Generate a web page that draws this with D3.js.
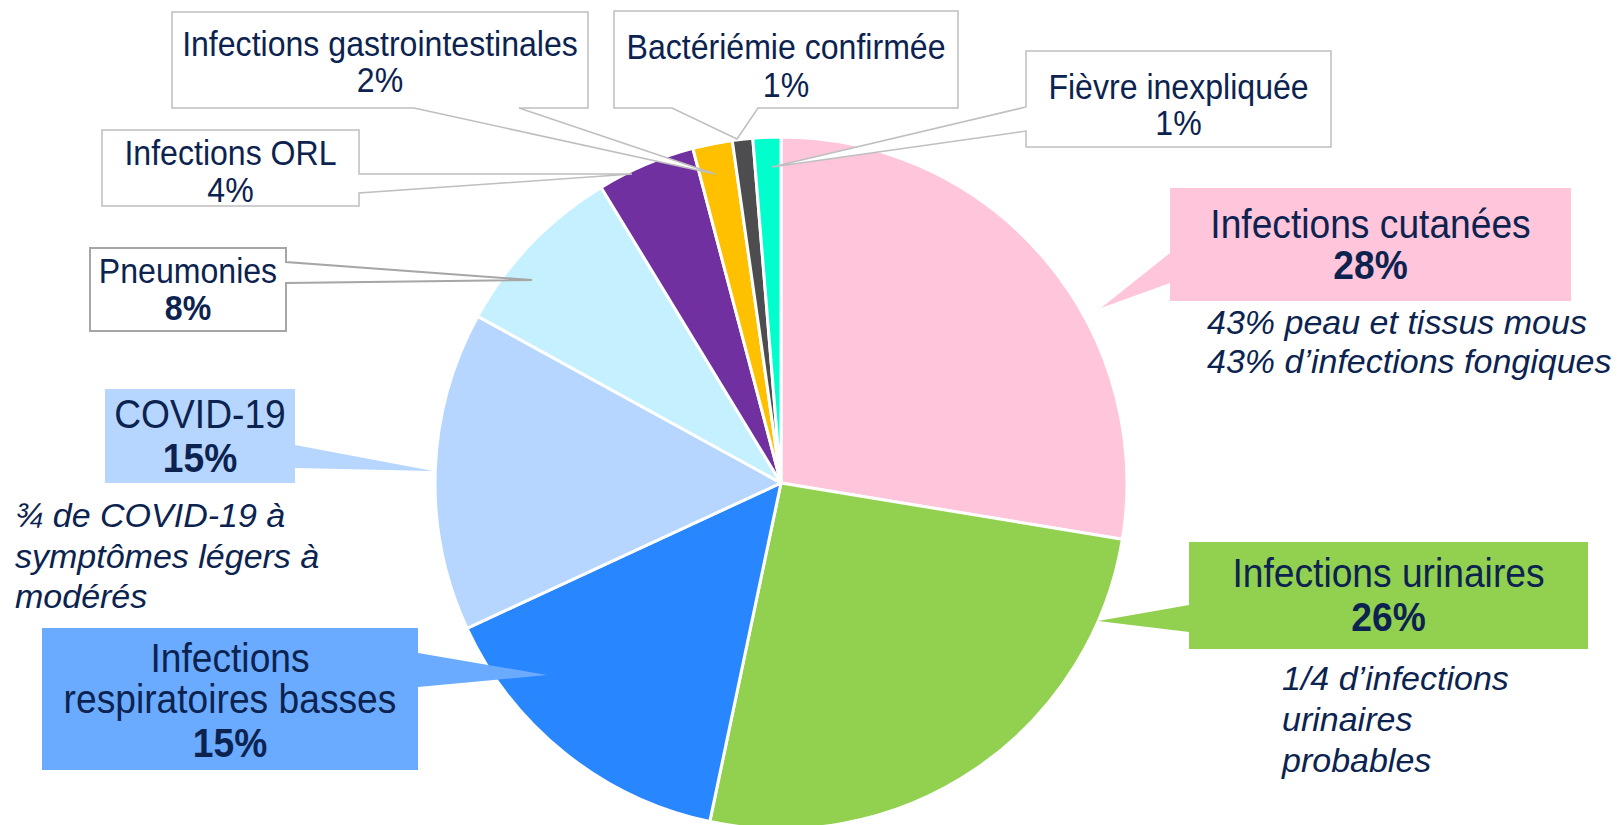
<!DOCTYPE html>
<html lang="fr">
<head>
<meta charset="utf-8">
<title>Répartition des infections</title>
<script src="https://cdn.jsdelivr.net/npm/d3@7"></script>
<style>
    html, body {
        margin: 0;
        padding: 0;
        background: #ffffff;
    }
    #chart {
        width: 1622px;
        height: 825px;
        overflow: hidden;
    }
    text {
        font-family: "Liberation Sans", Arial, sans-serif;
        fill: #0c2350;
    }
</style>
</head>
<body>
<div id="chart"></div>
<script>
// Slices, clockwise from 12 o'clock
var categories = [
    "Infections cutanées",
    "Infections urinaires",
    "Infections respiratoires basses",
    "COVID-19",
    "Pneumonies",
    "Infections ORL",
    "Infections gastrointestinales",
    "Bactériémie confirmée",
    "Fièvre inexpliquée"
];

// Share of each slice (%)
var shares = [27.6, 25.7, 14.8, 14.9, 8.3, 4.6, 1.85, 0.95, 1.3];

// Percent labels as printed
var pctLabels = ["28%", "26%", "15%", "15%", "8%", "4%", "2%", "1%", "1%"];

// Extra italic notes under some labels
var notes = [
    ["43% peau et tissus mous", "43% d’infections fongiques"],
    ["1/4 d’infections", "urinaires", "probables"],
    null,
    ["¾ de COVID-19 à", "symptômes légers à", "modérés"],
    null, null, null, null, null
];

var sliceColors = [
    "#ffc5db", "#92d050", "#2886ff", "#b6d6ff", "#c5f0ff",
    "#7030a0", "#ffc000", "#4d4d4f", "#00ffcc"
];

// Callout layout (annotation boxes), same order as categories
var callouts = [
    { box: [1170, 188, 401, 113], fill: "#ffc5db", side: "left", base: [253, 283], tip: [1101, 308],
      size: 40, bold: true, baselines: [238, 279] },
    { box: [1189, 542, 399, 107], fill: "#92d050", side: "left", base: [605, 632], tip: [1098, 621],
      size: 40, bold: true, baselines: [587, 631] },
    { box: [42, 628, 376, 142], fill: "#6babff", side: "right", base: [653, 687], tip: [547, 675],
      size: 40, bold: true, baselines: [672, 713, 757], lines: ["Infections", "respiratoires basses"] },
    { box: [105, 389, 190, 94], fill: "#b6d6ff", side: "right", base: [445, 468], tip: [433, 471],
      size: 40, bold: true, baselines: [428, 472] },
    { box: [90, 248, 196, 83], fill: "#ffffff", stroke: "#a6a6a6", strokeWidth: 2, side: "right",
      base: [262, 283], tip: [532, 280], size: 34.5, bold: true, baselines: [283, 320] },
    { box: [102, 130, 257, 76], fill: "#ffffff", stroke: "#bfbfbf", strokeWidth: 1.5, side: "right",
      base: [174, 193], tip: [632, 174], size: 34.5, bold: false, baselines: [165, 202] },
    { box: [172, 12, 416, 96], fill: "#ffffff", stroke: "#bfbfbf", strokeWidth: 1.5, side: "bottom",
      base: [414, 519], tip: [715, 174], size: 34.5, bold: false, baselines: [56, 92] },
    { box: [614, 11, 344, 97], fill: "#ffffff", stroke: "#bfbfbf", strokeWidth: 1.5, side: "bottom",
      base: [672, 758], tip: [737, 139], size: 34.5, bold: false, baselines: [59, 97] },
    { box: [1026, 51, 305, 96], fill: "#ffffff", stroke: "#bfbfbf", strokeWidth: 1.5, side: "left",
      base: [107, 131], tip: [772, 167], size: 34.5, bold: false, baselines: [99, 135] }
];

// Label text in the picture is a little narrower than Arial
var labelSqueeze = 0.93;

var noteLayout = [
    { x: 1207, baselines: [334, 373] },
    { x: 1282, baselines: [690, 731, 772] },
    null,
    { x: 15, baselines: [527, 568, 608] },
    null, null, null, null, null
];

var width = 1622;
var height = 825;
var cx = 781;
var cy = 483;
var radius = 346;

var svg = d3.select("#chart")
    .append("svg")
    .attr("width", width)
    .attr("height", height)
    .attr("viewBox", "0 0 " + width + " " + height);

// Pie
var pie = d3.pie()
    .sort(null)
    .value(function(d) { return d; });

var arc = d3.arc()
    .innerRadius(0)
    .outerRadius(radius);

var color = d3.scaleOrdinal()
    .domain(categories)
    .range(sliceColors);

svg.append("g")
    .attr("transform", "translate(" + cx + "," + cy + ")")
    .selectAll(".slice")
    .data(pie(shares))
    .enter()
    .append("path")
    .attr("class", "slice")
    .attr("d", arc)
    .attr("fill", function(d, i) { return color(categories[i]); })
    .attr("stroke", "#ffffff")
    .attr("stroke-width", 3)
    .attr("stroke-linejoin", "round");

// Box with a wedge pointer on one side
function calloutPath(c) {
    var x0 = c.box[0], y0 = c.box[1];
    var x1 = x0 + c.box[2], y1 = y0 + c.box[3];
    var t = c.tip[0] + "," + c.tip[1];
    var p = "M" + x0 + "," + y0 + "H" + x1;
    if (c.side === "right") {
        p += "V" + c.base[0] + "L" + t + "L" + x1 + "," + c.base[1];
    }
    p += "V" + y1;
    if (c.side === "bottom") {
        p += "H" + c.base[1] + "L" + t + "L" + c.base[0] + "," + y1;
    }
    p += "H" + x0;
    if (c.side === "left") {
        p += "V" + c.base[1] + "L" + t + "L" + x0 + "," + c.base[0];
    }
    return p + "Z";
}

var labels = svg.append("g").attr("class", "callouts");

callouts.forEach(function(c, i) {
    var g = labels.append("g");

    g.append("path")
        .attr("d", calloutPath(c))
        .attr("fill", c.fill)
        .attr("stroke", c.stroke || "none")
        .attr("stroke-width", c.strokeWidth || 0)
        .attr("stroke-linejoin", "miter");

    var lines = (c.lines || [categories[i]]).concat([pctLabels[i]]);
    var mid = c.box[0] + c.box[2] / 2;

    lines.forEach(function(line, k) {
        var isPct = k === lines.length - 1;
        g.append("text")
            .attr("transform", "translate(" + mid + "," + c.baselines[k] + ") scale(" + labelSqueeze + ",1)")
            .attr("text-anchor", "middle")
            .style("font-size", c.size + "px")
            .style("font-weight", isPct && c.bold ? "bold" : "normal")
            .text(line);
    });
});

// Italic notes
notes.forEach(function(lines, i) {
    if (!lines) return;
    var pos = noteLayout[i];
    lines.forEach(function(line, k) {
        svg.append("text")
            .attr("x", pos.x)
            .attr("y", pos.baselines[k])
            .style("font-size", "34px")
            .style("font-style", "italic")
            .text(line);
    });
});
</script>
</body>
</html>
